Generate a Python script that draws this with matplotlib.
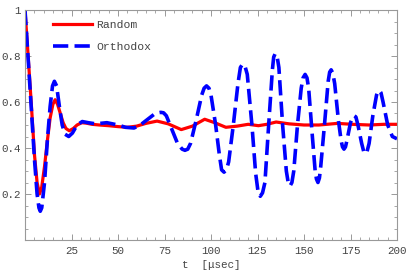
import matplotlib
matplotlib.use("Agg")
import matplotlib.pyplot as plt
from matplotlib.ticker import MultipleLocator, FixedLocator

plt.rcParams['font.family'] = ['Liberation Mono', 'DejaVu Sans Mono']
plt.rcParams['lines.scale_dashes'] = False

# Random (red, solid)
t_random = [0, 1.6, 3.4, 5.1, 6.5, 7.8, 9, 10.5, 12, 13.5, 15, 16.2, 17.5, 19,
            20.5, 22, 23.8, 26, 28, 30.5, 33, 36, 40, 45, 50, 55, 60, 65, 71,
            77, 84, 90, 96.6, 102, 108, 114, 120, 125.5, 130, 135, 142, 150,
            158, 168, 176, 185, 193, 200]
y_random = [1.0, 0.81, 0.59, 0.37, 0.25, 0.2, 0.23, 0.32, 0.43, 0.53, 0.59, 0.61,
            0.59, 0.55, 0.51, 0.485, 0.475, 0.485, 0.5, 0.51, 0.508, 0.503, 0.5,
            0.497, 0.493, 0.49, 0.495, 0.507, 0.517, 0.505, 0.48, 0.495, 0.525,
            0.51, 0.49, 0.495, 0.503, 0.497, 0.503, 0.513, 0.505, 0.5, 0.5,
            0.507, 0.503, 0.5, 0.503, 0.503]

# Orthodox (blue, dashed)
t_orth = [0, 1.6, 3.4, 5.1, 6.5, 7.5, 8.2, 9, 10.5, 12, 13.5, 14.8, 15.8, 17,
          18.5, 20, 21.5, 23.5, 25.5, 28, 30.8, 34, 38, 44, 50, 54, 58.6, 62,
          66, 70, 71.5, 73, 74.5, 76, 79, 82, 84.5, 86, 87.5, 89, 92, 95, 96.3,
          97.6, 98.9, 100, 102.5, 104.5, 105.7, 107, 108.3, 109.5, 112, 114.5,
          115.8, 117, 118.3, 119.5, 122, 124, 125.3, 126.5, 127.7, 129, 131,
          133, 133.7, 134.5, 135.5, 136.5, 138.5, 140.5, 141.5, 142.5, 143.5,
          144.5, 146.5, 148.5, 149.5, 150.6, 151.6, 152.5, 154.5, 156, 156.7,
          157.5, 158.3, 159, 161, 163, 163.8, 164.6, 165.5, 166.5, 168.5, 170,
          170.7, 171.5, 172.3, 173, 175, 176.2, 177, 177.9, 179, 181, 182.1,
          183, 183.9, 185, 187, 189, 189.7, 190.5, 191.4, 192.5, 195, 197.5,
          200]
y_orth = [1.0, 0.8, 0.57, 0.35, 0.2, 0.14, 0.125, 0.14, 0.25, 0.43, 0.58, 0.67,
          0.69, 0.67, 0.58, 0.5, 0.46, 0.45, 0.465, 0.5, 0.515, 0.51, 0.505,
          0.51, 0.5, 0.49, 0.487, 0.5, 0.525, 0.55, 0.553, 0.555, 0.553, 0.54,
          0.48, 0.42, 0.395, 0.39, 0.395, 0.42, 0.52, 0.63, 0.66, 0.67, 0.66,
          0.63, 0.5, 0.37, 0.305, 0.295, 0.305, 0.34, 0.5, 0.68, 0.75, 0.765,
          0.755, 0.72, 0.5, 0.29, 0.21, 0.19, 0.205, 0.25, 0.5, 0.74, 0.795,
          0.81, 0.8, 0.75, 0.5, 0.3, 0.25, 0.235, 0.25, 0.3, 0.5, 0.66, 0.705,
          0.72, 0.705, 0.66, 0.45, 0.3, 0.265, 0.25, 0.27, 0.32, 0.5, 0.69,
          0.73, 0.74, 0.725, 0.68, 0.52, 0.43, 0.405, 0.395, 0.405, 0.43, 0.51,
          0.535, 0.54, 0.535, 0.5, 0.42, 0.385, 0.375, 0.385, 0.42, 0.54, 0.63,
          0.645, 0.65, 0.64, 0.6, 0.5, 0.45, 0.44]

x_ticks = [25, 50, 75, 100, 125, 150, 175, 200]
y_ticks = [0.2, 0.4, 0.6, 0.8, 1.0]
y_labels = ["0.2", "0.4", "0.6", "0.8", "1"]

fig = plt.figure(figsize=(4.09, 2.74), dpi=100)
ax = fig.add_axes([25/409, 34/274, 372/409, 230/274])

ax.plot(t_random, y_random, color='#ff0000', lw=2.3, label='Random',
        solid_joinstyle='round')
ax.plot(t_orth, y_orth, color='#0000ff', lw=2.6, dashes=(11, 4.5),
        label='Orthodox', dash_joinstyle='round')

ax.set_xlim(0, 200)
ax.set_ylim(0, 1)
ax.xaxis.set_major_locator(FixedLocator(x_ticks))
ax.xaxis.set_minor_locator(MultipleLocator(5))
ax.yaxis.set_major_locator(FixedLocator(y_ticks))
ax.set_yticklabels(y_labels)
ax.yaxis.set_minor_locator(MultipleLocator(0.05))

for s in ax.spines.values():
    s.set_color('#999999')
    s.set_linewidth(0.8)
ax.tick_params(which='both', direction='in', top=True, right=True,
               colors='#999999', labelcolor='#444444', labelsize=7.8)
ax.tick_params(which='major', length=4, width=0.7)
ax.tick_params(which='minor', length=2, width=0.6)
ax.tick_params(axis='x', pad=4)
ax.tick_params(axis='y', pad=3)

ax.set_xlabel('t  [\u03bcsec]', fontsize=7.8, color='#444444', labelpad=3)

ax.legend(loc='upper left', bbox_to_anchor=(0.0465, 1.0), frameon=False,
          fontsize=8.2, handlelength=3.43, handletextpad=0.44, labelspacing=1.0,
          labelcolor='#444444')

fig.savefig('out.png', dpi=100)
